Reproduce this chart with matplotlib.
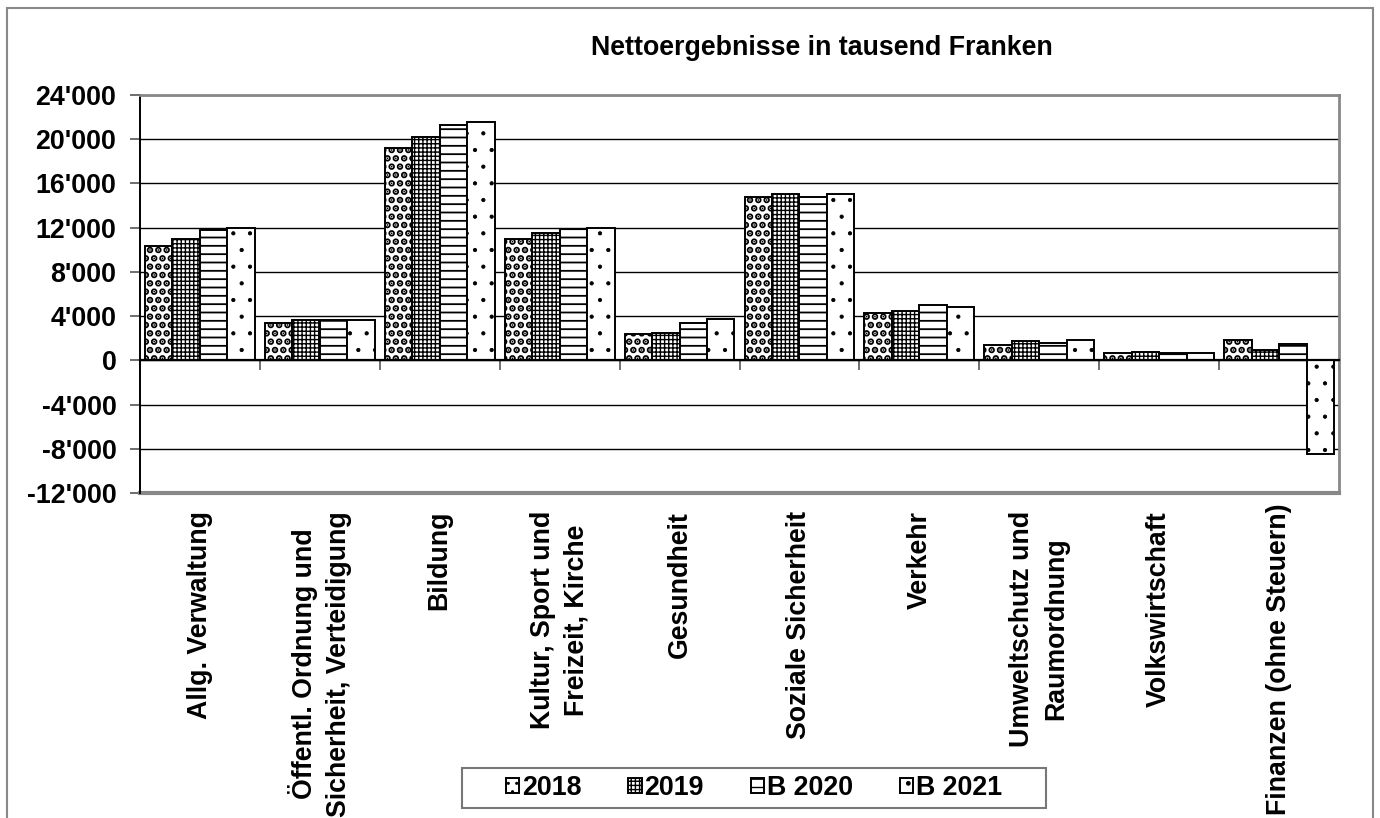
import numpy as np
import matplotlib
matplotlib.use("Agg")
import matplotlib.pyplot as plt
from matplotlib.patches import Rectangle
from matplotlib.ticker import FuncFormatter

# Daten (Nettoergebnisse in tausend Franken)
kategorien = [
    "Allg. Verwaltung",
    "Öffentl. Ordnung und\nSicherheit, Verteidigung",
    "Bildung",
    "Kultur, Sport und\nFreizeit, Kirche",
    "Gesundheit",
    "Soziale Sicherheit",
    "Verkehr",
    "Umweltschutz und\nRaumordnung",
    "Volkswirtschaft",
    "Finanzen (ohne Steuern)",
]
serien = ["2018", "2019", "B 2020", "B 2021"]
v2018 = [10300, 3400, 19200, 10950, 2350, 14800, 4290, 1360, 670, 1870]
v2019 = [11000, 3620, 20200, 11550, 2500, 15000, 4430, 1750, 760, 960]
vb2020 = [11800, 3620, 21250, 11850, 3400, 14800, 4980, 1540, 700, 1470]
vb2021 = [11950, 3680, 21550, 11950, 3760, 15000, 4800, 1800, 700, -8500]
werte = [v2018, v2019, vb2020, vb2021]

# Muster wie im Excel-Diagramm
muster = ["..", "++++", "--", "."]
muster_lw = [3.4, 1.0, 1.3, 0.6]
fs = 19.3

plt.rcParams["font.family"] = ["Liberation Sans", "DejaVu Sans"]
plt.rcParams["font.weight"] = "bold"
plt.rcParams["hatch.color"] = "black"

fig = plt.figure(figsize=(13.8, 8.18), dpi=100)
ax = fig.add_axes([140 / 1380, 1 - 493 / 818, 1199 / 1380, 398 / 818])

x = np.arange(len(kategorien))
breite = 0.229
for i, (name, vals) in enumerate(zip(serien, werte)):
    with plt.rc_context({"hatch.linewidth": muster_lw[i]}):
        bars = ax.bar(
            x + (i - 1.5) * breite,
            vals,
            width=breite,
            color="white",
            edgecolor="black",
            linewidth=1.4,
            hatch=muster[i],
            label=name,
            zorder=3,
        )
    for b in bars:
        if hasattr(b, "set_hatch_linewidth"):
            b.set_hatch_linewidth(muster_lw[i])

ax.set_xlim(-0.5, len(kategorien) - 0.5)
ax.set_ylim(-12000, 24000)
ax.set_yticks(np.arange(-12000, 24001, 4000))
ax.yaxis.set_major_formatter(
    FuncFormatter(lambda v, p: f"{int(v):,}".replace(",", "'"))
)
ax.yaxis.grid(True, color="black", linewidth=1.0, zorder=1)
ax.set_axisbelow(True)

# Achsen und Rahmen
for s in ["top", "right"]:
    ax.spines[s].set_color("#888888")
    ax.spines[s].set_linewidth(2)
ax.spines["left"].set_color("black")
ax.spines["left"].set_linewidth(1.4)
ax.spines["bottom"].set_position(("data", 0))
ax.spines["bottom"].set_color("black")
ax.spines["bottom"].set_linewidth(1.6)
ax.spines["bottom"].set_zorder(4)
ax.axhline(-12000, color="#888888", linewidth=3, clip_on=False, zorder=2)

ax.set_xticks(np.arange(-0.5, len(kategorien), 1.0))
ax.set_xticklabels([])
ax.tick_params(axis="x", direction="out", length=7, width=1.2, color="#555555")
ax.tick_params(axis="y", direction="out", length=7, width=1.2, color="#555555",
               labelsize=fs, pad=10)
for lab in ax.get_yticklabels():
    lab.set_fontweight("bold")

# Kategorienbeschriftung unterhalb der Grafik
for xi, k in zip(x, kategorien):
    # die lange letzte Beschriftung etwas höher, damit sie ganz sichtbar bleibt
    y0 = -0.025 if k.startswith("Finanzen") else -0.045
    ax.text(xi, y0, k, transform=ax.get_xaxis_transform(), rotation=90,
            ha="center", va="top", multialignment="center",
            fontsize=fs, fontweight="bold", linespacing=1.4)

fig.text(822 / 1380, 1 - 48 / 818, "Nettoergebnisse in tausend Franken",
         ha="center", va="center", fontsize=fs, fontweight="bold")

leg = fig.legend(loc="center", bbox_to_anchor=(754 / 1380, 1 - 788 / 818),
                 ncol=4, fontsize=fs, frameon=False,
                 handlelength=0.5, handleheight=0.5,
                 handletextpad=0.1, columnspacing=1.75)
for t in leg.get_texts():
    t.set_fontweight("bold")

# Legendenrahmen
fig.add_artist(Rectangle((462 / 1380, 1 - 808 / 818), 584 / 1380, 40 / 818,
                         transform=fig.transFigure, facecolor="white",
                         edgecolor="#777777", linewidth=1.5, zorder=2))
leg.set_zorder(3)

# Rahmen um die Grafik
fig.add_artist(Rectangle((7 / 1380, -0.01), 1366 / 1380, 1 - 8 / 818 + 0.01,
                         transform=fig.transFigure, fill=False,
                         edgecolor="#888888", linewidth=1.5))

fig.savefig("out.png", dpi=100)
